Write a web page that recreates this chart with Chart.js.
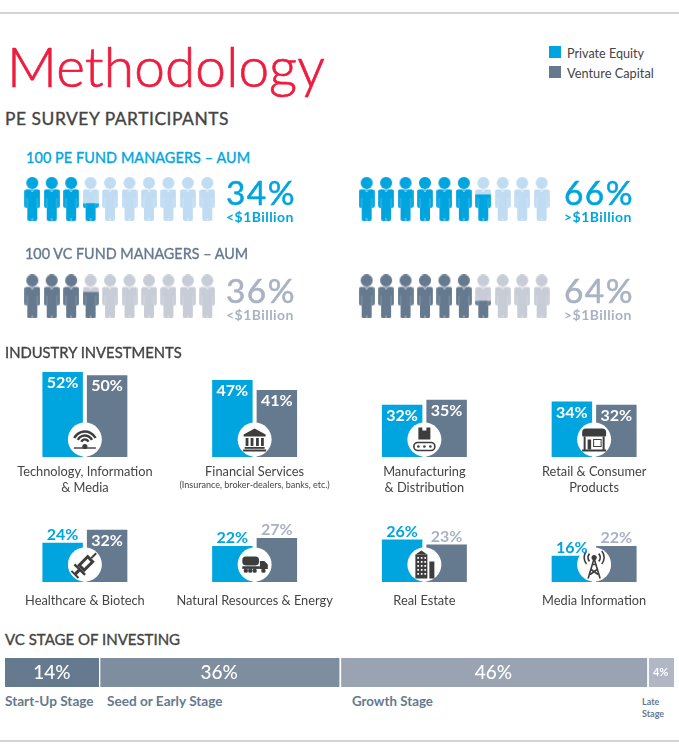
<!DOCTYPE html>
<html>
<head>
<meta charset="utf-8">
<title>Methodology</title>
<script src="https://cdn.jsdelivr.net/npm/chart.js@4"></script>
<style>
  html, body { margin: 0; padding: 0; background: #fff; }
  #page { position: relative; width: 679px; height: 754px; overflow: hidden; font-family: Lato, sans-serif; }
  #page canvas { position: absolute; }
  .t { position: absolute; white-space: nowrap; transform: translateY(-50%); line-height: 1; }
  .rule { position: absolute; left: 0; width: 679px; height: 2px; background: #d4d4d4; }
</style>
</head>
<body>
<div id="page">
  <div class="rule" style="top:12px"></div>
  <div class="rule" style="top:740px"></div>
  <canvas id="people" width="679" height="155" style="left:0;top:170px"></canvas>
  <canvas id="row1" width="679" height="140" style="left:0;top:360px"></canvas>
  <canvas id="row2" width="679" height="118" style="left:0;top:507px"></canvas>
  <canvas id="stages" width="669" height="29" style="left:5px;top:658px"></canvas>
</div>
<script>
// data
var peAum = [34, 66];
var vcAum = [36, 64];
var aumLabels = ["<$1Billion", ">$1Billion"];

var row1Categories = [["Technology, Information", "& Media"], "Financial Services", ["Manufacturing", "& Distribution"], ["Retail & Consumer", "Products"]];
var row1Pe = [52, 47, 32, 34];
var row1Vc = [50, 41, 35, 32];

var row2Categories = ["Healthcare & Biotech", "Natural Resources & Energy", "Real Estate", "Media Information"];
var row2Pe = [24, 22, 26, 16];
var row2Vc = [32, 27, 23, 22];

var stageNames = ["Start-Up Stage", "Seed or Early Stage", "Growth Stage", "Late Stage"];
var stageValues = [14, 36, 46, 4];

var BLUE = "#00a5e0", SLATE = "#65798f", BLUE_LT = "#c0dcf3", SLATE_LT = "#c7ccd6", PALE = "#a9b2c3", INK = "#444444";
var stageColors = ["#65798f", "#7f8e9f", "#9aa3b2", "#b1b7c4"];

Chart.defaults.font.family = "Lato, sans-serif";
Chart.defaults.animation = false;
Chart.defaults.responsive = false;
Chart.defaults.plugins.legend.display = false;
Chart.defaults.plugins.tooltip.enabled = false;

var page = document.getElementById("page");
function text(str, x, y, size, color, weight, extra) {
  var d = document.createElement("div");
  d.className = "t";
  d.textContent = str;
  d.style.left = x + "px";
  d.style.top = y + "px";
  d.style.fontSize = size + "px";
  d.style.color = color;
  d.style.fontWeight = weight || 400;
  if (extra) d.style.cssText += extra;
  page.appendChild(d);
  return d;
}
// Lato has no real medium here, so thicken the regular cut a little
var MEDIUM = "-webkit-text-stroke:0.35px currentColor;";

text("Methodology", 7, 66, 55, "#ee1c3e", 300, "-webkit-text-stroke:0.7px currentColor;letter-spacing:0.1px;");
text("PE SURVEY PARTICIPANTS", 5, 119, 17.4, INK, 400, MEDIUM + "letter-spacing:0.55px;");
text("100 PE FUND MANAGERS – AUM", 26, 158, 14.4, BLUE, 400, MEDIUM + "letter-spacing:0.1px;");
text("100 VC FUND MANAGERS – AUM", 25, 254, 14.4, SLATE, 400, MEDIUM);
text("INDUSTRY INVESTMENTS", 5, 352, 14.8, INK, 400, MEDIUM);
text("VC STAGE OF INVESTING", 5, 639, 15, INK, 400, MEDIUM);

// legend
function swatch(y, c) {
  var s = document.createElement("div");
  s.style.cssText = "position:absolute;left:549px;top:" + y + "px;width:12px;height:12px;background:" + c;
  page.appendChild(s);
}
swatch(46, BLUE); swatch(66, SLATE);
text("Private Equity", 567, 53.5, 12.6, INK);
text("Venture Capital", 567, 73, 12.8, INK);

// percentages next to the people
var PCT = "-webkit-text-stroke:0.5px currentColor;letter-spacing:1.4px;";
[226, 564].forEach(function (x, i) {
  text(peAum[i] + "%", x, 193, 33.5, BLUE, 400, PCT);
  text(aumLabels[i], x, 217, 14, BLUE, 700, "letter-spacing:0.45px;");
  text(vcAum[i] + "%", x, 291, 33.5, PALE, 400, PCT);
  text(aumLabels[i], x, 315, 14, PALE, 700, "letter-spacing:0.45px;");
});

// one person, dark from the feet up to the given fraction
function person(frac, dark, light) {
  var c = document.createElement("canvas");
  c.width = 16; c.height = 44;
  var g = c.getContext("2d");
  function shape(color) {
    g.fillStyle = color;
    g.beginPath();
    g.arc(8, 6, 6, 0, Math.PI * 2);
    g.fill();
    g.beginPath();
    g.roundRect(0.2, 12.5, 15.6, 18.5, 2);
    g.fill();
    g.beginPath();
    g.roundRect(3, 20, 10, 24, 2);
    g.fill();
  }
  shape(light);
  if (frac > 0) {
    g.save();
    g.beginPath();
    g.rect(0, 44 - 44 * frac, 16, 44 * frac);
    g.clip();
    shape(dark);
    g.restore();
  }
  g.strokeStyle = "rgba(255,255,255,0.35)";
  g.lineWidth = 0.7;
  g.beginPath();
  g.moveTo(3, 21); g.lineTo(3, 31);
  g.moveTo(13, 21); g.lineTo(13, 31);
  g.stroke();
  g.strokeStyle = "rgba(255,255,255,0.8)";
  g.beginPath();
  g.moveTo(8, 41); g.lineTo(8, 44);
  g.moveTo(6.5, 12.5); g.lineTo(8, 15); g.lineTo(9.5, 12.5);
  g.stroke();
  return c;
}

var STEP = 19.44, RIGHT_GROUP = 17.2;
function peopleSet(share, row, offset, dark, light) {
  var pts = [], imgs = [];
  for (var i = 0; i < 10; i++) {
    pts.push({ x: offset + i, y: row });
    imgs.push(person(Math.max(0, Math.min(1, share / 10 - i)), dark, light));
  }
  return { data: pts, pointStyle: imgs, showLine: false, clip: false };
}

new Chart("people", {
  type: "scatter",
  data: {
    datasets: [
      peopleSet(peAum[0], 0, 0, BLUE, BLUE_LT),
      peopleSet(peAum[1], 0, RIGHT_GROUP, BLUE, BLUE_LT),
      peopleSet(vcAum[0], 1, 0, SLATE, SLATE_LT),
      peopleSet(vcAum[1], 1, RIGHT_GROUP, SLATE, SLATE_LT)
    ]
  },
  options: {
    layout: { padding: 0, autoPadding: false },
    scales: {
      x: { display: false, min: -32.3 / STEP, max: (679 - 32.3) / STEP },
      y: { display: false, reverse: true, min: -0.296, max: 1.292 }
    }
  }
});

// icons, centred on 0,0
var icons = {
  wifi: function (g) {
    g.strokeStyle = "#3d3d3d"; g.lineWidth = 2.4; g.lineCap = "butt";
    [4, 8, 12].forEach(function (r) {
      g.beginPath();
      g.arc(0, 4, r, Math.PI * 1.15, Math.PI * 1.85);
      g.stroke();
    });
    g.lineWidth = 1.4;
    g.beginPath(); g.moveTo(-11, 8.5); g.lineTo(11, 8.5); g.stroke();
    g.beginPath(); g.arc(0, 7, 2.6, 0, Math.PI * 2); g.fill();
  },
  bank: function (g) {
    g.beginPath(); g.moveTo(0, -11); g.lineTo(11, -5); g.lineTo(11, -3); g.lineTo(-11, -3); g.lineTo(-11, -5); g.closePath(); g.fill();
    [-9, -4, 1.4, 6.4].forEach(function (x) { g.fillRect(x, -1.5, 2.8, 8); });
    g.fillRect(-10, 7.5, 20, 1.8);
    g.fillRect(-11.5, 10, 23, 2);
  },
  conveyor: function (g) {
    g.beginPath(); g.moveTo(-6, -12); g.lineTo(-2, -12); g.lineTo(-2, -9); g.lineTo(2, -9); g.lineTo(2, -12); g.lineTo(6, -12); g.lineTo(6, 0); g.lineTo(-6, 0); g.closePath(); g.fill();
    g.strokeStyle = "#3d3d3d"; g.lineWidth = 1.6;
    g.beginPath(); g.roundRect(-10.5, 3, 21, 8, 4); g.stroke();
    [-6, 0, 6].forEach(function (x) { g.beginPath(); g.arc(x, 7, 1.3, 0, Math.PI * 2); g.fill(); });
  },
  store: function (g) {
    g.beginPath(); g.roundRect(-12, -11, 24, 8, [4, 4, 1, 1]); g.fill();
    g.fillRect(-10.5, -3, 2, 14); g.fillRect(8.5, -3, 2, 14);
    g.fillRect(-12, 10, 24, 2);
    g.fillRect(-6.5, 0, 3.5, 10);
    g.lineWidth = 1; g.strokeStyle = "#3d3d3d"; g.strokeRect(-0.5, 0, 7.5, 7);
  },
  syringe: function (g) {
    g.rotate(Math.PI / 4);
    g.fillRect(-5, -9, 10, 15);
    g.fillStyle = "#fff"; g.fillRect(-2, -6, 4, 9); g.fillStyle = "#3d3d3d";
    g.fillRect(-7.5, 6, 15, 2.4);
    g.fillRect(-1.6, 8, 3.2, 6);
    g.fillRect(-5, 13, 10, 2);
    g.fillRect(-1, -16, 2, 7);
  },
  truck: function (g) {
    g.scale(0.88, 0.88);
    g.beginPath(); g.roundRect(-14, -9, 19, 10, 4); g.fill();
    g.fillRect(-14, 2, 20, 3);
    g.beginPath(); g.moveTo(6, -4); g.lineTo(11, -4); g.lineTo(15, 0); g.lineTo(15, 5); g.lineTo(6, 5); g.closePath(); g.fill();
    [-10, -5, 0, 10].forEach(function (x) { g.beginPath(); g.arc(x, 7, 2.5, 0, Math.PI * 2); g.fill(); });
  },
  building: function (g) {
    g.beginPath(); g.moveTo(-3, -14); g.lineTo(3, -10); g.lineTo(-9, -10); g.closePath(); g.fill();
    g.fillRect(-9, -10, 12, 24);
    g.fillRect(5, -3, 5, 17);
    g.fillStyle = "#fff";
    for (var r = 0; r < 5; r++) for (var k = 0; k < 3; k++) g.fillRect(-7 + k * 3.5, -7.5 + r * 4, 1.6, 1.8);
    g.fillStyle = "#3d3d3d";
  },
  tower: function (g) {
    g.lineWidth = 1.6; g.strokeStyle = "#3d3d3d";
    g.beginPath(); g.moveTo(-6, 14); g.lineTo(0, -6); g.lineTo(6, 14);
    g.moveTo(-3, 5); g.lineTo(4, 10); g.moveTo(3, 5); g.lineTo(-4, 10); g.moveTo(-2, 0); g.lineTo(2, 0);
    g.stroke();
    g.beginPath(); g.arc(0, -7, 2.6, 0, Math.PI * 2); g.fill();
    [6, 10].forEach(function (r) {
      g.beginPath(); g.arc(0, -7, r, -0.7, 0.7); g.stroke();
      g.beginPath(); g.arc(0, -7, r, Math.PI - 0.7, Math.PI + 0.7); g.stroke();
    });
  }
};

// value labels and icon badges for the grouped bars
var barExtras = {
  id: "barExtras",
  afterDatasetsDraw: function (chart, args, opts) {
    var g = chart.ctx, base = chart.scales.y.getPixelForValue(0);
    opts.icons.forEach(function (name, i) {
      var cx = chart.scales.x.getPixelForValue(i), cy = base - 17.5;
      g.save();
      g.fillStyle = "#fff";
      g.beginPath(); g.arc(cx, cy, 17, 0, Math.PI * 2); g.fill();
      g.translate(cx, cy);
      g.fillStyle = "#3d3d3d";
      icons[name](g);
      g.restore();
    });
    g.save();
    g.font = "700 16px Lato, sans-serif";
    g.textAlign = "center";
    g.textBaseline = "middle";
    chart.data.datasets.forEach(function (ds, d) {
      chart.getDatasetMeta(d).data.forEach(function (bar, i) {
        var v = ds.data[i], inside = v >= 30;
        g.fillStyle = inside ? "#fff" : (d === 0 ? BLUE : PALE);
        g.fillText(v + "%", bar.x, inside ? bar.y + 11 : bar.y - 8);
      });
    });
    g.restore();
  }
};

function barRow(id, categories, pe, vc, yMax, names, tickPad) {
  return new Chart(id, {
    type: "bar",
    data: {
      labels: categories,
      datasets: [
        { label: "Private Equity", data: pe, backgroundColor: BLUE, categoryPercentage: 0.524, barPercentage: 0.91 },
        { label: "Venture Capital", data: vc, backgroundColor: SLATE, categoryPercentage: 0.524, barPercentage: 0.91 }
      ]
    },
    options: {
      layout: { padding: 0 },
      plugins: { barExtras: { icons: names } },
      scales: {
        x: {
          afterFit: function (s) { s.height = 43; },
          grid: { display: false, drawTicks: false },
          border: { display: false },
          ticks: { color: INK, padding: tickPad, autoSkip: false, maxRotation: 0, font: { size: 12.8, lineHeight: 1.25 } }
        },
        y: { display: false, min: 0, max: yMax }
      }
    },
    plugins: [barExtras]
  });
}

barRow("row1", row1Categories, row1Pe, row1Vc, 59.3, ["wifi", "bank", "conveyor", "store"], 7);
barRow("row2", row2Categories, row2Pe, row2Vc, 45.9, ["syringe", "truck", "building", "tower"], 11);
text("(Insurance, broker-dealers, banks, etc.)", 254.6, 484, 9, INK, 400, "transform:translate(-50%,-50%);");

// stage bar
var stageLabels = {
  id: "stageLabels",
  afterDatasetsDraw: function (chart) {
    var g = chart.ctx;
    g.save();
    g.fillStyle = "#fff";
    g.textAlign = "center";
    g.textBaseline = "middle";
    chart.data.datasets.forEach(function (ds, d) {
      var bar = chart.getDatasetMeta(d).data[0], v = ds.data[0];
      g.font = v < 10 ? "700 11px Lato, sans-serif" : "500 19px Lato, sans-serif";
      g.fillText(v + "%", (bar.base + bar.x) / 2, bar.y);
    });
    g.restore();
  }
};

new Chart("stages", {
  type: "bar",
  data: {
    labels: ["VC stage"],
    datasets: stageNames.map(function (n, i) {
      return {
        label: n, data: [stageValues[i]], backgroundColor: stageColors[i],
        borderColor: "#fff", borderWidth: { left: i ? 2 : 0 }, borderSkipped: false,
        categoryPercentage: 1, barPercentage: 1
      };
    })
  },
  options: {
    indexAxis: "y",
    layout: { padding: 0 },
    scales: {
      x: { display: false, stacked: true, min: 0, max: 100 },
      y: { display: false, stacked: true }
    }
  },
  plugins: [stageLabels]
});

text(stageNames[0], 5, 702, 13.6, SLATE, 700);
text(stageNames[1], 107, 702, 13.6, SLATE, 700);
text(stageNames[2], 352, 702, 13.3, SLATE, 700);
text("Late", 642, 701, 9, SLATE, 700);
text("Stage", 642, 713, 9, SLATE, 700);
</script>
</body>
</html>
